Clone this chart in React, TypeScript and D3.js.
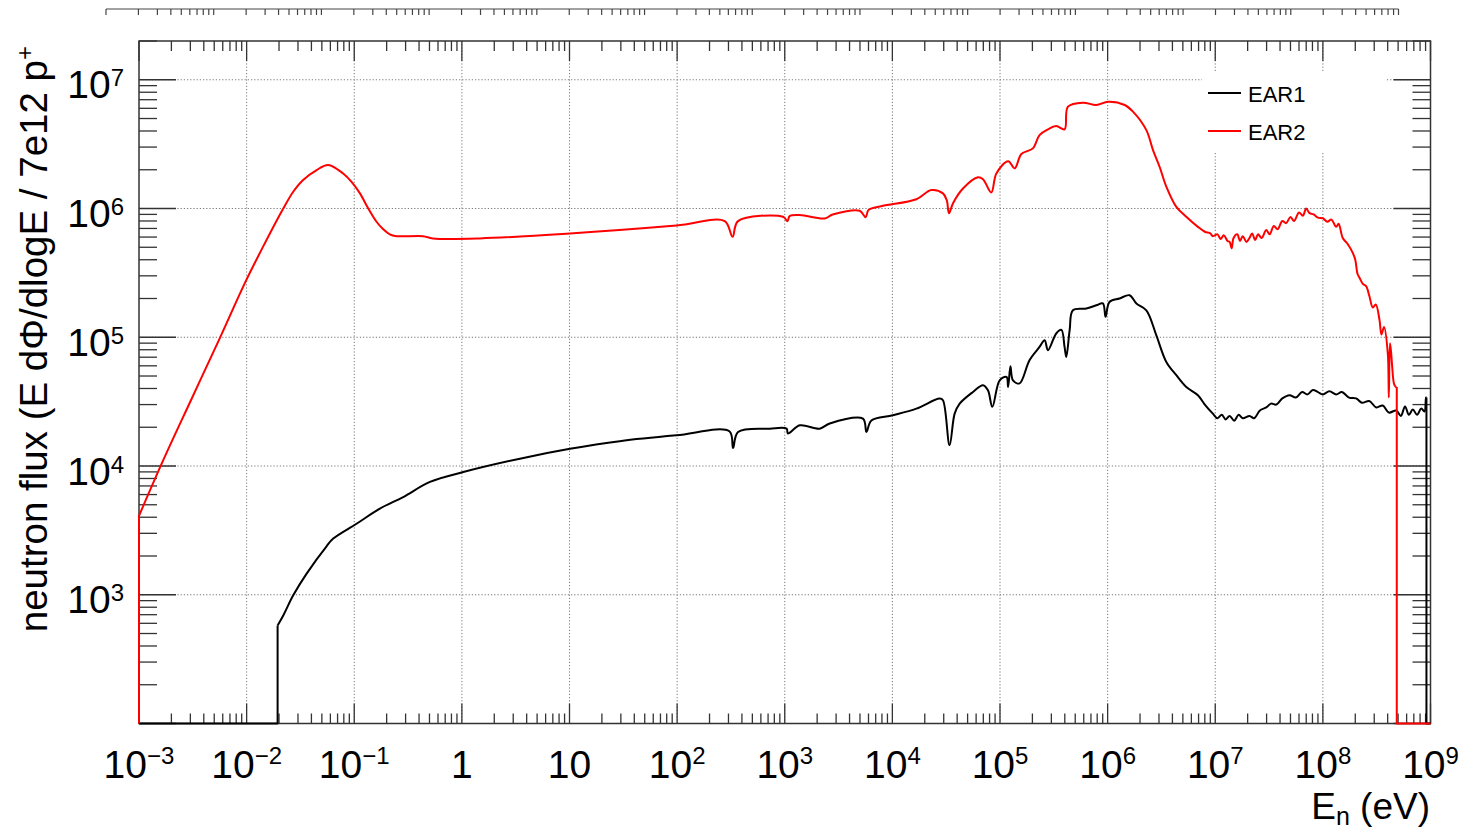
import { useEffect, useRef } from 'react';
import * as d3 from 'd3';

// EAR1 histogram (energy in eV, flux per bin, 0 = empty bin)
const ear1Energy = [
  1e-3, 1.94e-2, 1.94e-2, 2.19e-2, 2.71e-2, 3.61e-2, 5.53e-2, 6.38e-2, 0.105, 0.173, 0.285, 0.505,
  1.03, 3.46, 10.1, 29.3, 98.6, 306, 331, 368, 726, 1.04e3, 1.07e3, 1.38e3, 2.11e3, 2.62e3,
  5.33e3, 5.74e3, 6.38e3, 1.01e4, 1.67e4, 2.75e4, 2.95e4, 3.4e4, 3.79e4, 4.22e4, 5.61e4, 6.95e4,
  7.73e4, 8.49e4, 9.93e4, 1.15e5, 1.19e5, 1.25e5, 1.32e5, 1.52e5, 1.88e5, 2.33e5, 2.6e5, 2.79e5,
  3.33e5, 3.72e5, 3.98e5, 4.13e5, 4.44e5, 4.76e5, 6.34e5, 7.85e5, 9.04e5, 9.57e5, 1.04e6, 1.29e6,
  1.6e6, 1.85e6, 2.29e6, 2.83e6, 3.51e6, 4.35e6, 5.38e6, 6.9e6, 8.0e6, 9.5e6, 1.05e7, 1.15e7,
  1.25e7, 1.36e7, 1.5e7, 1.65e7, 1.8e7, 2.08e7, 2.3e7, 2.6e7, 2.98e7, 3.3e7, 3.7e7, 4.2e7, 4.9e7,
  5.6e7, 6.4e7, 7.2e7, 8.07e7, 9.0e7, 1.0e8, 1.15e8, 1.33e8, 1.5e8, 1.75e8, 2.04e8, 2.3e8, 2.7e8,
  3.13e8, 3.6e8, 4.1e8, 4.8e8, 5.3e8, 5.8e8, 6.3e8, 6.85e8, 7.5e8, 8.2e8, 8.79e8, 9.1e8, 9.17e8,
  9.17e8, 1e9
];
const ear1Flux = [
  0, 0, 578, 690, 990, 1.46e3, 2.38e3, 2.73e3, 3.56e3, 4.67e3, 5.74e3, 7.52e3,
  8.97e3, 1.14e4, 1.36e4, 1.56e4, 1.73e4, 1.86e4, 1.38e4, 1.84e4, 1.95e4, 1.95e4, 1.79e4, 2.07e4, 1.95e4, 2.14e4,
  2.33e4, 1.84e4, 2.26e4, 2.48e4, 2.79e4, 3.34e4, 3.24e4, 1.45e4, 2.55e4, 3.05e4, 3.76e4, 4.24e4,
  3.87e4, 2.88e4, 4.63e4, 4.92e4, 4.11e4, 5.96e4, 4.63e4, 4.38e4, 6.64e4, 8.41e4, 9.48e4, 7.93e4,
  1.07e5, 1.14e5, 8.41e4, 7.03e4, 1.14e5, 1.62e5, 1.67e5, 1.77e5, 1.83e5, 1.44e5, 1.88e5, 2.0e5,
  2.12e5, 1.83e5, 1.62e5, 1.04e5, 6.43e4, 5.07e4, 4.11e4, 3.55e4, 3.0e4, 2.55e4, 2.35e4, 2.5e4,
  2.3e4, 2.45e4, 2.25e4, 2.5e4, 2.35e4, 2.45e4, 2.35e4, 2.7e4, 2.85e4, 3.05e4, 3.0e4, 3.35e4, 3.55e4,
  3.4e4, 3.75e4, 3.6e4, 3.9e4, 3.75e4, 3.6e4, 3.8e4, 3.6e4, 3.75e4, 3.4e4, 3.35e4, 3.1e4, 3.2e4,
  2.85e4, 2.95e4, 2.6e4, 2.7e4, 2.45e4, 2.9e4, 2.5e4, 2.75e4, 2.5e4, 2.8e4, 2.65e4, 3.4e4, 3.4e4,
  0, 0
];

// EAR2 histogram
const ear2Energy = [
  1e-3, 1e-3, 1.68e-3, 3.1e-3, 5.65e-3, 9.6e-3, 1.43e-2, 2.19e-2, 2.71e-2, 3.33e-2, 4.47e-2, 5.73e-2,
  7.89e-2, 9.44e-2, 0.113, 0.135, 0.161, 0.186, 0.214, 0.247, 0.435, 0.538, 1.47, 10.1, 98.6, 277,
  327, 368, 964, 1.06e3, 1.11e3, 1.38e3, 2.35e3, 2.79e3, 4.97e3, 5.65e3, 6.0e3, 8.0e3, 1.67e4,
  2.3e4, 2.95e4, 3.2e4, 3.36e4, 3.66e4, 4.53e4, 6.24e4, 6.95e4, 8.3e4, 9.25e4, 1.19e5, 1.37e5,
  1.58e5, 2.02e5, 2.33e5, 2.79e5, 3.33e5, 3.98e5, 4.28e5, 5.89e5, 7.85e5, 1.01e6, 1.44e6, 1.72e6,
  2.29e6, 2.64e6, 3.04e6, 3.51e6, 4.35e6, 5.38e6, 6.9e6, 8.0e6, 9.0e6, 9.5e6, 1.05e7, 1.12e7,
  1.2e7, 1.3e7, 1.36e7, 1.42e7, 1.48e7, 1.6e7, 1.7e7, 1.8e7, 1.95e7, 2.08e7, 2.2e7, 2.35e7, 2.5e7,
  2.7e7, 2.98e7, 3.2e7, 3.5e7, 3.8e7, 4.2e7, 4.56e7, 5.0e7, 5.4e7, 6.0e7, 6.52e7, 7.0e7, 7.52e7,
  8.2e7, 9.0e7, 1.0e8, 1.1e8, 1.2e8, 1.33e8, 1.4e8, 1.53e8, 1.7e8, 1.9e8, 2.0e8, 2.1e8, 2.19e8,
  2.35e8, 2.52e8, 2.7e8, 2.91e8, 3.1e8, 3.36e8, 3.5e8, 3.7e8, 4.01e8, 4.1e8, 4.2e8, 4.3e8, 4.4e8,
  4.6e8, 4.8e8, 4.86e8, 4.86e8, 1e9
];
const ear2Flux = [
  0, 4.1e3, 1.11e4, 3.36e4, 9.9e4, 2.62e5, 5.1e5, 1.0e6, 1.35e6, 1.66e6, 1.99e6, 2.18e6,
  1.87e6, 1.61e6, 1.31e6, 1.0e6, 7.89e5, 6.89e5, 6.3e5, 6.1e5, 6.1e5, 5.86e5, 5.86e5, 6.4e5, 7.38e5, 7.98e5,
  6.03e5, 7.98e5, 8.63e5, 7.98e5, 8.73e5, 8.89e5, 8.37e5, 8.99e5, 9.6e5, 8.57e5, 9.72e5, 1.045e6, 1.18e6,
  1.39e6, 1.31e6, 1.16e6, 9.2e5, 1.1e6, 1.43e6, 1.75e6, 1.69e6, 1.33e6, 1.87e6, 2.33e6, 2.05e6,
  2.65e6, 2.93e6, 3.72e6, 4.12e6, 4.37e6, 4.12e6, 6.18e6, 6.64e6, 6.37e6, 6.75e6, 6.37e6, 5.65e6,
  4.06e6, 2.84e6, 2.11e6, 1.48e6, 1.03e6, 8.63e5, 7.2e5, 6.6e5, 6.4e5, 6.1e5, 6.3e5, 5.8e5,
  6.2e5, 5.6e5, 5.5e5, 4.9e5, 5.9e5, 6.3e5, 5.6e5, 6.1e5, 5.5e5, 5.9e5, 6.4e5, 5.7e5, 6.3e5,
  5.9e5, 6.8e5, 6.3e5, 7.3e5, 6.9e5, 8.0e5, 7.7e5, 8.6e5, 8.0e5, 9.3e5, 8.8e5, 1.0e6, 9.2e5,
  9.0e5, 8.5e5, 8.4e5, 7.9e5, 8.2e5, 7.2e5, 7.6e5, 5.9e5, 5.3e5, 4.5e5, 4.0e5, 3.1e5, 2.9e5,
  2.6e5, 2.5e5, 2.1e5, 1.7e5, 1.8e5, 1.36e5, 1.05e5, 1.2e5, 7.5e4, 3.4e4, 9.0e4, 7.7e4, 6.0e4,
  4.3e4, 4.1e4, 4.1e4, 0, 0
];

const energyExponents = [-3, -2, -1, 0, 1, 2, 3, 4, 5, 6, 7, 8, 9];
const fluxExponents = [2, 3, 4, 5, 6, 7];
const fluxLabelExponents = [3, 4, 5, 6, 7];
const legendLabels = ['EAR1', 'EAR2'];
const yTitle = 'neutron flux (E d\u03A6/dlogE / 7e12 p';
const xTitle = ['E', 'n', ' (eV)'];

const FONT = '"Liberation Sans", Arial, Helvetica, sans-serif';

export default function App() {
  const svgRef = useRef<SVGSVGElement>(null);

  useEffect(() => {
    if (!svgRef.current) return;
    const svg = d3.select(svgRef.current);
    svg.selectAll('*').remove();

    const W = 1461;
    const H = 829;
    const frame = { left: 139, right: 1430.5, top: 41, bottom: 723.5 };

    svg.append('rect').attr('width', W).attr('height', H).attr('fill', '#fff');

    const x = d3.scaleLog().domain([1e-3, 1e9]).range([frame.left, frame.right]);
    const y = d3.scaleLog().domain([1e2, 2e7]).range([frame.bottom, frame.top]);

    const minorsX: number[] = [];
    energyExponents.slice(0, -1).forEach((e) => {
      for (let k = 2; k <= 9; k++) minorsX.push(k * Math.pow(10, e));
    });
    const minorsY: number[] = [];
    fluxExponents.forEach((e) => {
      for (let k = 2; k <= 9; k++) {
        const v = k * Math.pow(10, e);
        if (v <= 2e7) minorsY.push(v);
      }
    });

    // Stray axis from the panel above
    const xTop = d3.scaleLog().domain([1e-3, 1e9]).range([106, 1398.5]);
    const top = svg.append('g').attr('stroke', '#444').attr('stroke-width', 1.2);
    top.append('line').attr('x1', 106).attr('x2', 1398.5).attr('y1', 9).attr('y2', 9);
    [...energyExponents.map((e) => Math.pow(10, e)), ...minorsX].forEach((v) => {
      top.append('line')
        .attr('x1', xTop(v)).attr('x2', xTop(v))
        .attr('y1', 9).attr('y2', 15);
    });

    // Grid
    const grid = svg.append('g')
      .attr('stroke', '#777')
      .attr('stroke-width', 1)
      .attr('stroke-dasharray', '1.2,2');
    energyExponents.slice(1, -1).forEach((e) => {
      const px = x(Math.pow(10, e));
      grid.append('line').attr('x1', px).attr('x2', px).attr('y1', frame.top).attr('y2', frame.bottom);
    });
    fluxLabelExponents.forEach((e) => {
      const py = y(Math.pow(10, e));
      grid.append('line').attr('x1', frame.left).attr('x2', frame.right).attr('y1', py).attr('y2', py);
    });

    // Legend box (hides the grid behind it)
    svg.append('rect')
      .attr('x', 1202).attr('y', 72).attr('width', 185).attr('height', 80)
      .attr('fill', '#fff');
    const legendColors = ['#000', '#ff0000'];
    legendLabels.forEach((label, i) => {
      const ly = 93 + i * 38;
      svg.append('line')
        .attr('x1', 1208).attr('x2', 1241).attr('y1', ly).attr('y2', ly)
        .attr('stroke', legendColors[i]).attr('stroke-width', 2);
      svg.append('text')
        .attr('x', 1248).attr('y', ly + 8.5)
        .attr('font-family', FONT).attr('font-size', 22)
        .attr('fill', '#000')
        .text(label);
    });

    // Ticks
    const ticks = svg.append('g').attr('stroke', '#333').attr('stroke-width', 1.3);
    energyExponents.forEach((e) => {
      const px = x(Math.pow(10, e));
      ticks.append('line').attr('x1', px).attr('x2', px).attr('y1', frame.bottom).attr('y2', frame.bottom - 20);
      ticks.append('line').attr('x1', px).attr('x2', px).attr('y1', frame.top).attr('y2', frame.top + 20);
    });
    minorsX.forEach((v) => {
      const px = x(v);
      ticks.append('line').attr('x1', px).attr('x2', px).attr('y1', frame.bottom).attr('y2', frame.bottom - 10);
      ticks.append('line').attr('x1', px).attr('x2', px).attr('y1', frame.top).attr('y2', frame.top + 10);
    });
    fluxExponents.forEach((e) => {
      const py = y(Math.pow(10, e));
      ticks.append('line').attr('x1', frame.left).attr('x2', frame.left + 37).attr('y1', py).attr('y2', py);
      ticks.append('line').attr('x1', frame.right).attr('x2', frame.right - 37).attr('y1', py).attr('y2', py);
    });
    minorsY.forEach((v) => {
      const py = y(v);
      ticks.append('line').attr('x1', frame.left).attr('x2', frame.left + 18).attr('y1', py).attr('y2', py);
      ticks.append('line').attr('x1', frame.right).attr('x2', frame.right - 18).attr('y1', py).attr('y2', py);
    });

    svg.append('rect')
      .attr('x', frame.left).attr('y', frame.top)
      .attr('width', frame.right - frame.left).attr('height', frame.bottom - frame.top)
      .attr('fill', 'none').attr('stroke', '#333').attr('stroke-width', 1.5);

    // Curves: the filled bins get a smooth path, the empty bins and the
    // edges down to them stay straight
    const drawSeries = (energy: number[], flux: number[], color: string) => {
      const idx = d3.range(energy.length);
      const filled = idx.filter((i) => flux[i] > 0);
      const first = filled[0];
      const last = filled[filled.length - 1];
      const px = (i: number) => x(energy[i]);
      const py = (i: number) => (flux[i] > 0 ? y(flux[i]) : frame.bottom);

      const smooth = d3.line<number>().x(px).y(py).curve(d3.curveCatmullRom.alpha(0.5));
      const straight = d3.line<number>().x(px).y(py);

      const g = svg.append('g')
        .attr('fill', 'none')
        .attr('stroke', color)
        .attr('stroke-width', 2)
        .attr('stroke-linejoin', 'round');
      g.append('path').datum(filled).attr('d', smooth);
      g.append('path').datum(idx.filter((i) => i <= first)).attr('d', straight);
      g.append('path').datum(idx.filter((i) => i >= last)).attr('d', straight);
    };
    drawSeries(ear1Energy, ear1Flux, '#000');
    drawSeries(ear2Energy, ear2Flux, '#ff0000');

    // Tick labels
    energyExponents.forEach((e) => {
      const t = svg.append('text')
        .attr('x', x(Math.pow(10, e)))
        .attr('y', 777.5)
        .attr('text-anchor', 'middle')
        .attr('font-family', FONT)
        .attr('font-size', 39)
        .attr('fill', '#000');
      if (e === 0) t.text('1');
      else if (e === 1) t.text('10');
      else {
        t.append('tspan').text('10');
        t.append('tspan')
          .attr('dy', -14)
          .attr('font-size', 24)
          .text(e < 0 ? `\u2212${-e}` : `${e}`);
      }
    });
    fluxLabelExponents.forEach((e) => {
      const t = svg.append('text')
        .attr('x', 124)
        .attr('y', y(Math.pow(10, e)) + 18.5)
        .attr('text-anchor', 'end')
        .attr('font-family', FONT)
        .attr('font-size', 39)
        .attr('fill', '#000');
      t.append('tspan').text('10');
      t.append('tspan').attr('dy', -12).attr('font-size', 24).text(`${e}`);
    });

    // Axis titles
    const yt = svg.append('text')
      .attr('transform', 'translate(47,46) rotate(-90)')
      .attr('text-anchor', 'end')
      .attr('font-family', FONT)
      .attr('font-size', 38.5)
      .attr('fill', '#000');
    yt.append('tspan').text(yTitle);
    yt.append('tspan').attr('dy', -14).attr('font-size', 24).text('+');

    const xt = svg.append('text')
      .attr('x', 1430)
      .attr('y', 819)
      .attr('text-anchor', 'end')
      .attr('font-family', FONT)
      .attr('font-size', 37)
      .attr('fill', '#000');
    xt.append('tspan').text(xTitle[0]);
    xt.append('tspan').attr('dy', 6).attr('font-size', 25).text(xTitle[1]);
    xt.append('tspan').attr('dy', -6).text(xTitle[2]);
  }, []);

  return (
    <svg
      ref={svgRef}
      width={1461}
      height={829}
      style={{ position: 'absolute', left: 0, top: 0, display: 'block' }}
    />
  );
}
